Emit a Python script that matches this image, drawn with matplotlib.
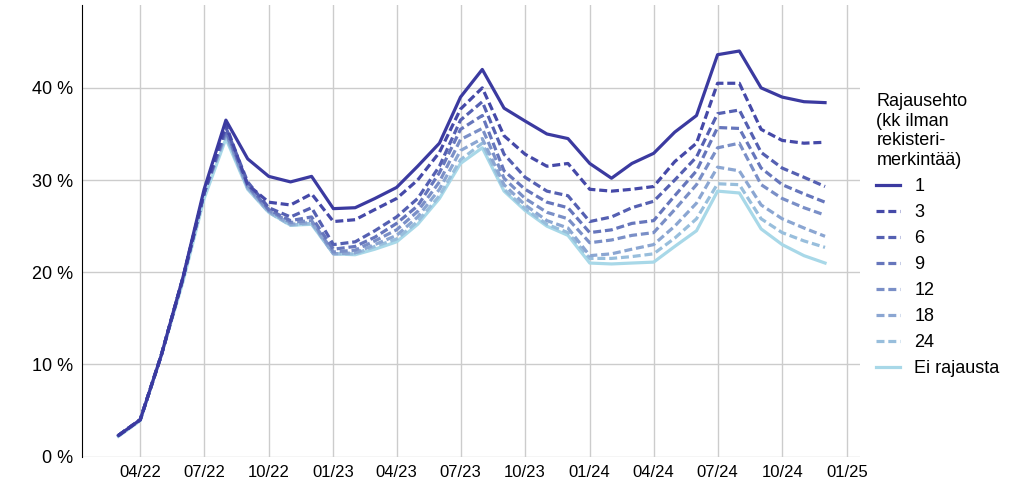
import matplotlib
matplotlib.use("Agg")
import matplotlib.pyplot as plt
import pandas as pd

plt.rcParams["font.family"] = ["Liberation Sans", "DejaVu Sans"]

dates = pd.date_range("2022-03-01", "2024-12-01", freq="MS")
early = [2.3, 4.0, 11.0, 19.4, 28.6]
s1 = [2.3, 4.0, 11.0, 19.5, 29.0, 36.5, 32.3, 30.4, 29.8, 30.4, 26.9, 27.0, 28.0, 29.2, 31.5, 34.0, 39.0, 42.0, 37.8, 36.4, 35.0, 34.5, 31.8, 30.2, 31.8, 32.9, 35.2, 37.0, 43.6, 44.0, 40.0, 39.0, 38.5, 38.4]
s3 = early + [36.0, 29.5, 27.6, 27.3, 28.5, 25.5, 25.7, 26.8, 28.0, 30.0, 33.0, 37.7, 40.0, 34.8, 32.8, 31.5, 31.8, 29.0, 28.8, 29.0, 29.3, 32.0, 34.0, 40.5, 40.5, 35.5, 34.3, 34.0, 34.1]
s6 = early + [35.7, 29.8, 27.0, 26.0, 27.0, 23.0, 23.3, 24.5, 26.0, 28.0, 31.5, 36.5, 38.5, 32.8, 30.3, 28.8, 28.3, 25.5, 26.0, 27.0, 27.7, 30.0, 32.5, 37.2, 37.6, 33.0, 31.3, 30.3, 29.3]
s9 = early + [35.4, 29.5, 26.8, 25.6, 26.0, 22.5, 22.8, 23.8, 25.3, 27.2, 30.8, 35.5, 37.0, 31.0, 29.0, 27.6, 27.0, 24.3, 24.6, 25.3, 25.6, 28.3, 31.0, 35.7, 35.6, 31.3, 29.5, 28.5, 27.6]
s12 = early + [35.2, 29.3, 26.7, 25.4, 25.6, 22.2, 22.4, 23.4, 24.6, 26.6, 29.8, 34.4, 35.6, 30.2, 28.0, 26.5, 25.8, 23.2, 23.5, 24.0, 24.3, 26.8, 29.5, 33.5, 34.0, 29.5, 28.0, 27.0, 26.2]
s18 = early + [35.0, 29.2, 26.6, 25.2, 25.4, 22.0, 22.1, 23.0, 24.0, 26.0, 29.0, 33.2, 34.5, 29.5, 27.3, 25.6, 24.8, 21.8, 22.0, 22.5, 23.0, 25.0, 27.5, 31.4, 31.0, 27.3, 25.8, 24.8, 23.9]
s24 = early + [34.8, 29.1, 26.5, 25.1, 25.3, 22.0, 22.0, 22.8, 23.6, 25.5, 28.3, 32.2, 34.0, 29.0, 26.9, 25.2, 24.3, 21.5, 21.5, 21.7, 22.0, 23.7, 25.8, 29.6, 29.5, 25.8, 24.3, 23.4, 22.7]
s0 = [2.2, 3.9, 11.0, 19.0, 28.0, 34.5, 29.0, 26.5, 25.1, 25.2, 22.0, 21.9, 22.5, 23.3, 25.2, 28.0, 31.8, 33.5, 28.8, 26.7, 25.0, 24.0, 21.0, 20.9, 21.0, 21.1, 22.8, 24.5, 28.8, 28.6, 24.7, 23.0, 21.8, 21.0]

labels = ["1", "3", "6", "9", "12", "18", "24", "Ei rajausta"]
series = [s1, s3, s6, s9, s12, s18, s24, s0]
colors = ["#3b3aa0", "#4549a8", "#5560b2", "#6676bc", "#7a8fc7", "#8ba6d2", "#98bedc", "#a8d8e8"]

fig = plt.figure(figsize=(10.24, 4.91), dpi=100)
ax = fig.add_axes([0.08, 0.07, 0.76, 0.92])
for i, (lab, s, c) in enumerate(zip(labels, series, colors)):
    ls = "-" if i in (0, 7) else (0, (2.5, 1.2))
    ax.plot(dates, s, color=c, lw=2.3, ls=ls, label=lab, zorder=10 - i if i else 11)
ax.set_ylim(0, 49)
ax.set_yticks([0, 10, 20, 30, 40])
ax.set_yticklabels([f"{v} %" for v in [0, 10, 20, 30, 40]], fontsize=13)
ticks = pd.date_range("2022-04-01", "2025-01-01", freq="3MS")
ax.set_xticks(ticks)
ax.set_xticklabels([d.strftime("%m/%y") for d in ticks], fontsize=12)
ax.set_xlim(pd.Timestamp("2022-01-08"), pd.Timestamp("2025-01-20"))
ax.grid(True, color="#cccccc", lw=1)
for sp in ["top", "right", "bottom"]:
    ax.spines[sp].set_visible(False)
ax.spines["left"].set_color("black")
ax.tick_params(length=0, pad=6)
leg = ax.legend(title="Rajausehto\n(kk ilman\nrekisteri-\nmerkintää)", loc="center left",
                bbox_to_anchor=(1.0, 0.49), frameon=False, fontsize=13, title_fontsize=13,
                handlelength=1.3)
leg._legend_box.align = "left"
fig.savefig("out.png", dpi=100)
